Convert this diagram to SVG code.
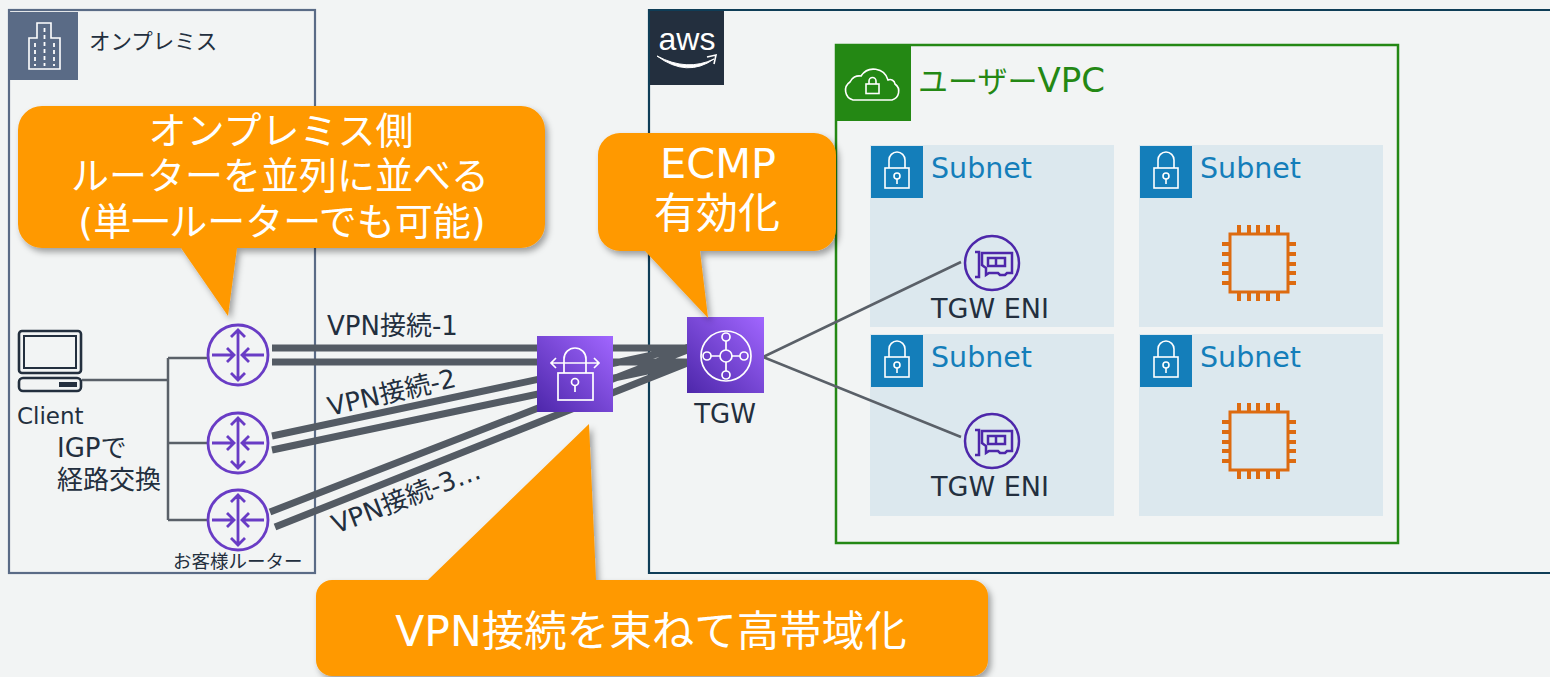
<svg xmlns="http://www.w3.org/2000/svg" width="1550" height="677" viewBox="0 0 1550 677">
<style>
text{font-family:"DejaVu Sans","Noto Sans CJK JP",sans-serif;fill:#232f3e}
.w{fill:#fff}
.m{text-anchor:middle}
.sub{fill:#147eba;font-size:28.500px}
.call{fill:#ff9900;filter:url(#sh)}
.vpn{stroke:#545b64;stroke-width:7;fill:none}
.thin{stroke:#5a6068;stroke-width:2.5;fill:none}
.sn{fill:#dce8ee}
.sh{fill:#147eba}
.ic{fill:none;stroke:#fff;stroke-width:1.6}
.r{fill:none;stroke:#693cc5;stroke-width:2.8}
.e{fill:none;stroke:#4d27aa;stroke-width:2.5}
.chip{fill:none;stroke:#dd6b10;stroke-width:3}
.pin{stroke:#dd6b10;stroke-width:4;fill:none}
</style>
<defs>
<filter id="sh" x="-10%" y="-10%" width="120%" height="120%"><feDropShadow dx="3" dy="4" stdDeviation="3" flood-color="#000" flood-opacity=".35"/></filter>
<linearGradient id="pg" x1="0" y1="1" x2="1" y2="0"><stop offset="0" stop-color="#4d27aa"/><stop offset="1" stop-color="#a166ff"/></linearGradient>
<g id="router"><circle class="r" r="30"/><path class="r" d="M0-25V25M-7-18 0-25 7-18M-7 18 0 25 7 18M-26 0H-4M-11-7-4 0-11 7M26 0H4M11-7 4 0 11 7"/></g>
<g id="lock"><rect class="sh" width="52" height="52"/><rect class="ic" x="14" y="22" width="24" height="20"/><path class="ic" d="M18 22V14a8 8 0 0 1 16 0V22"/><circle class="ic" cx="26" cy="30" r="3"/><path class="ic" d="M26 33V38"/></g>
<g id="eni"><circle class="e" r="27"/><path class="e" d="M-17-11H-13V14H-17M-10-10H20V10H15L13 12H8L6 10H-3L-6 12V5L-10 2Z"/><rect class="e" x="-4" y="-5" width="17" height="8"/><path class="e" d="M4-5V3"/></g>
<g id="chip"><rect class="chip" x="-29" y="-29" width="58" height="58"/><path class="pin" d="M-20-38V-29M-10-38V-29M-1-38V-29M9-38V-29M19-38V-29M-20 29V38M-10 29V38M-1 29V38M9 29V38M19 29V38M-37-19H-29M-37-9H-29M-37 1H-29M-37 10H-29M-37 20H-29M29-19H37M29-9H37M29 1H37M29 10H37M29 20H37"/></g>
</defs>
<rect width="1550" height="677" fill="#f2f4f4"/>

<g id="onprem">
<rect x="9" y="10" width="306" height="563" fill="none" stroke="#5a6b86" stroke-width="2.2"/>
<rect x="10" y="12" width="68" height="68" fill="#5a6b86"/>
<path d="M29 69V38H37V23H51V38H60V69Z" fill="none" stroke="#fff" stroke-width="1.6"/>
<path d="M35 43V66M44.500 28V66M54 43V66" fill="none" stroke="#fff" stroke-width="1.8" stroke-dasharray="4 3"/>
<text x="89" y="49" font-size="21.500">オンプレミス</text>
</g>

<g id="aws">
<path d="M1550 10H649V573H1550" fill="none" stroke="#0f3d57" stroke-width="2.2"/>
<rect x="650" y="11" width="74" height="74" fill="#232f3e"/>
<text x="687" y="50" font-size="32" class="w m" style="font-family:'Liberation Sans',sans-serif">aws</text>
<path d="M657 56Q687 72 714 59Q687 78 657 56Z" fill="#fff" stroke="#fff" stroke-width="1"/><path d="M707 57 716 55 714 64" fill="none" stroke="#fff" stroke-width="1.600"/>
</g>

<g id="vpc">
<rect x="836" y="45" width="562" height="498" fill="none" stroke="#248814" stroke-width="2.5"/>
<rect x="837" y="46" width="74" height="75" fill="#248814"/>
<path d="M853 100a10 10 0 0 1-3-18 10 10 0 0 1 11-6 15 15 0 0 1 27 4 5 5 0 0 1 7 4 9 9 0 0 1-3 16Z" fill="none" stroke="#fff" stroke-width="1.6"/>
<rect x="866" y="84" width="13" height="9.500" fill="none" stroke="#fff" stroke-width="1.6"/>
<path d="M869 84V81a3.500 3.500 0 0 1 7 0V84" fill="none" stroke="#fff" stroke-width="1.6"/>
<text x="918" y="92" font-size="30" style="fill:#248814">ユーザー<tspan font-size="34">VPC</tspan></text>
</g>

<g id="subnet-1"><rect class="sn" x="870" y="145" width="244" height="182"/><use href="#lock" x="871" y="146"/><text class="sub" x="931" y="178">Subnet</text></g>
<g id="subnet-2"><rect class="sn" x="1139" y="145" width="244" height="182"/><use href="#lock" x="1140" y="146"/><text class="sub" x="1200" y="178">Subnet</text></g>
<g id="subnet-3"><rect class="sn" x="870" y="334" width="244" height="182"/><use href="#lock" x="871" y="335"/><text class="sub" x="931" y="367">Subnet</text></g>
<g id="subnet-4"><rect class="sn" x="1139" y="334" width="244" height="182"/><use href="#lock" x="1140" y="335"/><text class="sub" x="1200" y="367">Subnet</text></g>

<g id="connectors">
<path class="thin" d="M82 380H168M168 358V520M168 358H207M168 443H207M168 520H207"/>
<path class="vpn" d="M272 348H690M272 362H690M272 436 690 347M272 450 690 362M270 512 690 349M275 527 690 362"/>
<path class="thin" d="M961 262 763 357 961 437"/>
</g>

<g id="client">
<rect x="19" y="331" width="62" height="42" rx="3" fill="none" stroke="#232f3e" stroke-width="2.6"/>
<rect x="24" y="336" width="52" height="32" fill="none" stroke="#232f3e" stroke-width="2"/>
<rect x="19" y="378" width="62" height="13" rx="4" fill="none" stroke="#232f3e" stroke-width="2.6"/>
<rect x="59" y="382" width="18" height="5" fill="#232f3e"/>
<text x="17" y="424" font-size="23">Client</text>
<text x="57" y="457" font-size="26">IGPで</text>
<text x="57" y="489" font-size="26">経路交換</text>
</g>

<g id="router-1"><use href="#router" x="238" y="355"/></g>
<g id="router-2"><use href="#router" x="238" y="443"/></g>
<g id="router-3"><use href="#router" x="238" y="520"/><text x="173" y="568" font-size="18.500">お客様ルーター</text></g>

<g id="labels">
<text x="327" y="335" font-size="26">VPN接続-1</text>
<text font-size="26" transform="translate(330 416) rotate(-13)">VPN接続-2</text>
<text font-size="26" transform="translate(336 534) rotate(-21)">VPN接続-3…</text>
</g>

<g id="vgw">
<rect x="537" y="336" width="76" height="76" fill="url(#pg)"/>
<g fill="none" stroke="#fff" stroke-width="1.700">
<rect x="558" y="373" width="35" height="27"/>
<path d="M564 373V359a11 11 0 0 1 22 0V373M552 363H598M556 358 551 363 556 368M594 358 599 363 594 368"/>
<circle cx="575" cy="382" r="3.500"/><path d="M575 385.500V392"/>
</g>
</g>

<g id="tgw">
<rect x="687" y="317" width="77" height="76" fill="url(#pg)"/>
<g fill="none" stroke="#fff" stroke-width="1.700">
<circle cx="726" cy="356" r="25"/><circle cx="726" cy="356" r="6"/>
<circle cx="726" cy="337" r="4"/><circle cx="726" cy="375" r="4"/><circle cx="707" cy="356" r="4"/><circle cx="744" cy="356" r="4"/>
<path d="M726 341V350M726 362V371M711 356H720M732 356H740"/>
</g>
<text x="725" y="423" font-size="26" class="m">TGW</text>
</g>

<g id="eni-1"><use href="#eni" x="992" y="263"/><text x="990" y="318" font-size="27" class="m">TGW ENI</text></g>
<g id="eni-2"><use href="#eni" x="992" y="441"/><text x="990" y="496" font-size="27" class="m">TGW ENI</text></g>
<g id="ec2-1"><use href="#chip" x="1259" y="263"/></g>
<g id="ec2-2"><use href="#chip" x="1259" y="441"/></g>

<g id="callout-routers">
<path class="call" d="M42 106H521a24 24 0 0 1 24 24V224a24 24 0 0 1-24 24H237L228 316 181 248H42a24 24 0 0 1-24-24V130a24 24 0 0 1 24-24Z"/>
<text x="281" y="144" font-size="38" class="w m">オンプレミス側</text>
<text x="280" y="189" font-size="38" class="w m">ルーターを並列に並べる</text>
<text x="282" y="235" font-size="38" class="w m">(単一ルーターでも可能)</text>
</g>
<g id="callout-ecmp">
<path class="call" d="M620 133H814a22 22 0 0 1 22 22V229a22 22 0 0 1-22 22H700L708 318 645 251H620a22 22 0 0 1-22-22V155a22 22 0 0 1 22-22Z"/>
<text x="718" y="178" font-size="41.500" class="w m">ECMP</text>
<text x="717" y="228" font-size="42" class="w m">有効化</text>
</g>
<g id="callout-vpn">
<path class="call" d="M332 580H428L589 424 596 580H972a16 16 0 0 1 16 16V660a16 16 0 0 1-16 16H332a16 16 0 0 1-16-16V596a16 16 0 0 1 16-16Z"/>
<text x="651" y="646" font-size="42.500" class="w m">VPN接続を束ねて高帯域化</text>
</g>
</svg>
